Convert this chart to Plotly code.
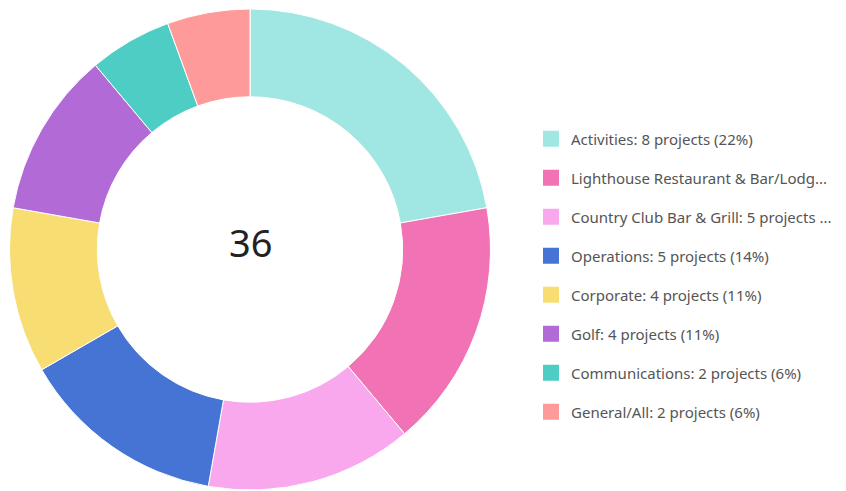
import plotly.graph_objects as go

categories = ["Activities", "Lighthouse Restaurant & Bar/Lodge", "Country Club Bar & Grill",
              "Operations", "Corporate", "Golf", "Communications", "General/All"]
counts = [8, 6, 5, 5, 4, 4, 2, 2]
legend_labels = ["Activities: 8 projects (22%)", "Lighthouse Restaurant & Bar/Lodg...",
                 "Country Club Bar & Grill: 5 projects ...", "Operations: 5 projects (14%)",
                 "Corporate: 4 projects (11%)", "Golf: 4 projects (11%)",
                 "Communications: 2 projects (6%)", "General/All: 2 projects (6%)"]
colors = ["#A0E7E4", "#F272B6", "#F9A8EE", "#4674D5", "#F7DD72", "#B26BD6", "#4ECDC4", "#FF9A9A"]
total = sum(counts)

FONT = "Noto Sans, Open Sans, sans-serif"
W, H = 846, 491

fig = go.Figure()
fig.add_trace(go.Pie(
    labels=categories, values=counts, hole=0.635, sort=False, direction="clockwise",
    rotation=0, marker=dict(colors=colors, line=dict(color="white", width=1)),
    textinfo="none", hoverinfo="label+value+percent", showlegend=False,
    domain=dict(x=[1.5 / W, 482.5 / W], y=[1 - 482 / H, 1 - 1 / H]),
))
for i, (lab, c) in enumerate(zip(legend_labels, colors)):
    fig.add_trace(go.Scatter(
        x=[None], y=[None], mode="markers", name=lab, legendgroup=f"g{i}",
        marker=dict(symbol="square", size=18, color=c),
        showlegend=True,
    ))

fig.add_annotation(text=str(total), x=242 / W, y=1 - 234 / H,
                   xref="paper", yref="paper", xanchor="center", yanchor="middle",
                   showarrow=False, font=dict(size=38, color="#222222", family=FONT))

fig.update_layout(
    width=W, height=H, margin=dict(l=0, r=0, t=0, b=0, autoexpand=False),
    paper_bgcolor="white", plot_bgcolor="white",
    xaxis=dict(visible=False), yaxis=dict(visible=False),
    font=dict(family=FONT, color="#555555", size=15),
    legend=dict(x=523 / W, y=1 - 267.4 / H, xanchor="left", yanchor="middle",
                tracegroupgap=16.5, itemsizing="trace",
                font=dict(size=15, color="#555555", family=FONT)),
)
fig.write_html("out.html")
